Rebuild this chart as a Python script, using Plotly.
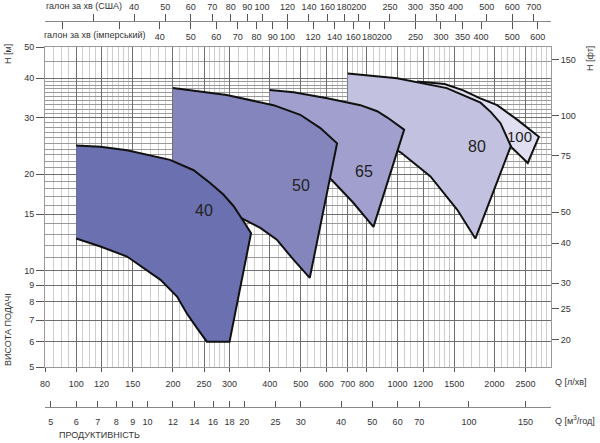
import numpy as np
import plotly.graph_objects as go

# --- шкали (значення підписів) ---
q_lpm_ticks = [80, 100, 120, 150, 200, 250, 300, 400, 500, 600, 700, 800, 1000, 1200, 1500, 2000, 2500]
q_m3h_ticks = [5, 6, 7, 8, 9, 10, 12, 14, 16, 18, 20, 25, 30, 40, 50, 60, 70, 100, 150, 180]
q_m3h_text = ["5", "6", "7", "8", "9", "10", "12", "14", "16", "18", "20", "25", "30", "40", "50", "60", "70", "100", "150", ""]
gal_us_ticks = [30, 40, 50, 60, 70, 80, 90, 100, 120, 140, 160, 180, 200, 250, 300, 350, 400, 500, 600, 700]
gal_imp_ticks = [20, 30, 40, 50, 60, 70, 80, 90, 100, 120, 140, 160, 180, 200, 250, 300, 350, 400, 500, 600]
h_m_ticks = [5, 6, 7, 8, 9, 10, 15, 20, 30, 40, 50]
h_ft_ticks = [20, 25, 30, 40, 50, 75, 100, 150]

# --- робочі поля насосів: Q [л/хв], H [м] ---
q_40 = [100, 119, 144, 196, 232, 261, 287, 309, 332, 350, 300, 255, 238, 221, 206, 183, 144, 119, 100]
h_40 = [24.6, 24.4, 23.8, 22.2, 20.6, 18.8, 17.3, 15.9, 14.25, 13.1, 6.0, 6.0, 6.6, 7.35, 8.3, 9.36, 11.07, 11.9, 12.6]

q_50 = [200, 294, 411, 498, 575, 648, 533, 475, 421, 374, 310, 250, 200]
h_50 = [37.2, 35.4, 32.9, 30.7, 27.9, 25.0, 9.5, 10.8, 12.5, 13.6, 15.0, 16.5, 17.5]

q_65 = [400, 475, 604, 766, 864, 929, 1048, 841, 728, 624, 560, 480, 400]
h_65 = [36.7, 36.1, 34.6, 32.9, 31.5, 30.1, 27.6, 13.7, 16.3, 19.2, 21.0, 23.0, 25.0]

q_80 = [700, 996, 1422, 1811, 1950, 2090, 2250, 1745, 1533, 1265, 1024, 850, 700]
h_80 = [41.3, 39.9, 37.2, 33.5, 31.3, 28.9, 24.5, 12.6, 15.5, 19.7, 23.4, 26.0, 28.0]

q_100 = [1150, 1400, 1600, 1800, 2040, 2360, 2750, 2540, 2150, 1900, 1500, 1150]
h_100 = [39.0, 38.3, 36.6, 34.6, 32.9, 29.6, 26.2, 21.7, 25.5, 27.5, 31.0, 34.0]

pump_names = ["100", "80", "65", "50", "40"]
pump_colors = ["#e0dff1", "#c2c1e0", "#a09fce", "#8585be", "#6b70b0"]
pump_q = [q_100, q_80, q_65, q_50, q_40]
pump_h = [h_100, h_80, h_65, h_50, h_40]

label_q = [2390, 1762, 785, 501, 249]
label_h = [26.3, 24.5, 20.4, 18.4, 15.4]

W, H = 600, 443
FONT = "Liberation Sans, Arial, sans-serif"
LPM_PER_USGAL = 3.785412
LPM_PER_IMPGAL = 4.54609
Q_MIN, Q_MAX = 80, 3000


def steps(a, b, s):
    return list(range(a + s, b, s))


# допоміжна сітка (тонкі лінії)
q_minor = (steps(80, 150, 5) + steps(150, 250, 10) + steps(250, 300, 10) + steps(300, 400, 20)
           + steps(400, 600, 25) + steps(600, 800, 25) + steps(800, 1000, 40)
           + steps(1000, 1500, 50) + steps(1500, 2500, 100) + steps(2500, 3000, 100))
q_minor = [v for v in q_minor if v not in q_lpm_ticks]
h_minor = [11, 12, 13, 14, 16, 17, 18, 19] + list(range(21, 30)) + list(range(31, 40)) + [45]

fig = go.Figure()

for name, col, qq, hh in zip(pump_names, pump_colors, pump_q, pump_h):
    fig.add_trace(go.Scatter(
        x=qq, y=hh, mode="lines", fill="toself", fillcolor=col,
        line=dict(color="#111111", width=2), name=name, hoverinfo="skip",
    ))

for t, q, h in zip(pump_names, label_q, label_h):
    fig.add_annotation(x=np.log10(q), y=np.log10(h), xref="x", yref="y", text=t,
                       showarrow=False, font=dict(family=FONT, size=16 if t != "100" else 15, color="#222"))

dom_x = [45 / W, 551 / W]
dom_y = [1 - 367 / H, 1 - 47 / H]
top_pos = 1 - 21 / H
bot_pos = 1 - 407 / H

fig.update_layout(
    width=W, height=H, margin=dict(l=0, r=0, t=0, b=0, autoexpand=False),
    paper_bgcolor="white", plot_bgcolor="white", showlegend=False,
    font=dict(family=FONT, size=9, color="#333"),
    xaxis=dict(
        domain=dom_x, type="log", range=[np.log10(Q_MIN), np.log10(Q_MAX)], automargin=False,
        tickmode="array", tickvals=q_lpm_ticks, ticktext=[str(v) for v in q_lpm_ticks], tickangle=0,
        ticks="outside", ticklen=4, tickcolor="#555", ticklabelstandoff=4,
        showgrid=True, gridcolor="#6e6e6e", gridwidth=1,
        minor=dict(tickmode="array", tickvals=q_minor, showgrid=True, gridcolor="#cdcdcd", gridwidth=1, ticks=""),
        showline=True, linecolor="#999", mirror=True, zeroline=False, anchor="y",
    ),
    yaxis=dict(
        domain=dom_y, type="log", range=[np.log10(5), np.log10(50)], automargin=False,
        tickmode="array", tickvals=h_m_ticks, ticktext=[str(v) for v in h_m_ticks],
        ticks="outside", ticklen=8, tickcolor="#555",
        showgrid=True, gridcolor="#6e6e6e", gridwidth=1,
        minor=dict(tickmode="array", tickvals=h_minor, showgrid=True, gridcolor="#9a9a9a", gridwidth=1, ticks=""),
        showline=True, linecolor="#999", mirror=True, zeroline=False, anchor="x",
    ),
    yaxis2=dict(
        overlaying="y", side="right", anchor="x", type="log", automargin=False,
        range=[np.log10(5 / 0.3048), np.log10(50 / 0.3048)],
        tickmode="array", tickvals=h_ft_ticks, ticktext=[str(v) for v in h_ft_ticks],
        ticks="outside", ticklen=7, tickcolor="#555", showgrid=False, showline=False, zeroline=False,
    ),
    xaxis2=dict(
        overlaying="x", side="top", anchor="free", position=top_pos, type="log", automargin=False,
        range=[np.log10(Q_MIN / LPM_PER_USGAL), np.log10(Q_MAX / LPM_PER_USGAL)],
        tickmode="array", tickvals=gal_us_ticks, tickangle=0,
        ticktext=["" if v == 30 else str(v) for v in gal_us_ticks],
        ticks="outside", ticklen=7, tickcolor="#555", showgrid=False,
        showline=True, linecolor="#888", zeroline=False,
    ),
    xaxis3=dict(
        overlaying="x", side="bottom", anchor="free", position=top_pos, type="log", automargin=False,
        range=[np.log10(Q_MIN / LPM_PER_IMPGAL), np.log10(Q_MAX / LPM_PER_IMPGAL)],
        tickmode="array", tickvals=gal_imp_ticks, tickangle=0,
        ticktext=["" if v in (20, 30) else str(v) for v in gal_imp_ticks],
        ticks="outside", ticklen=7, tickcolor="#555", showgrid=False,
        showline=False, zeroline=False,
    ),
    xaxis4=dict(
        overlaying="x", side="bottom", anchor="free", position=bot_pos, type="log", automargin=False,
        range=[np.log10(Q_MIN * 0.06), np.log10(Q_MAX * 0.06)],
        tickmode="array", tickvals=q_m3h_ticks, ticktext=q_m3h_text, tickangle=0,
        ticks="inside", ticklen=6, tickcolor="#555", ticklabelstandoff=6, showgrid=False,
        showline=True, linecolor="#888", zeroline=False,
    ),
)

# порожні сліди, щоб додаткові осі були намальовані
for xa, ya in [("x2", "y"), ("x3", "y"), ("x4", "y"), ("x", "y2")]:
    fig.add_trace(go.Scatter(x=[], y=[], xaxis=xa, yaxis=ya, hoverinfo="skip"))


def note(text, px, py, angle=0, xanchor="left", size=9):
    fig.add_annotation(x=px / W, y=1 - py / H, xref="paper", yref="paper", text=text,
                       showarrow=False, textangle=angle, xanchor=xanchor, yanchor="middle",
                       font=dict(family=FONT, size=size, color="#333"))


note("галон за хв (США)", 44, 6)
note("галон за хв (імперський)", 42, 35)
note("Q [л/хв]", 553, 382)
note("Q [м<sup>3</sup>/год]", 553, 420)
note("ПРОДУКТИВНІСТЬ", 57, 435)
note("H [м]", 8, 54, angle=-90, xanchor="center")
note("ВИСОТА ПОДАЧІ", 8, 330, angle=-90, xanchor="center")
note("H [фт]", 590, 59, angle=-90, xanchor="center")

# прибираємо стандартний відступ сторінки
fig.write_html("out.html", config={"displayModeBar": False},
               post_script="document.body.style.margin='0';document.body.style.overflow='hidden';")
